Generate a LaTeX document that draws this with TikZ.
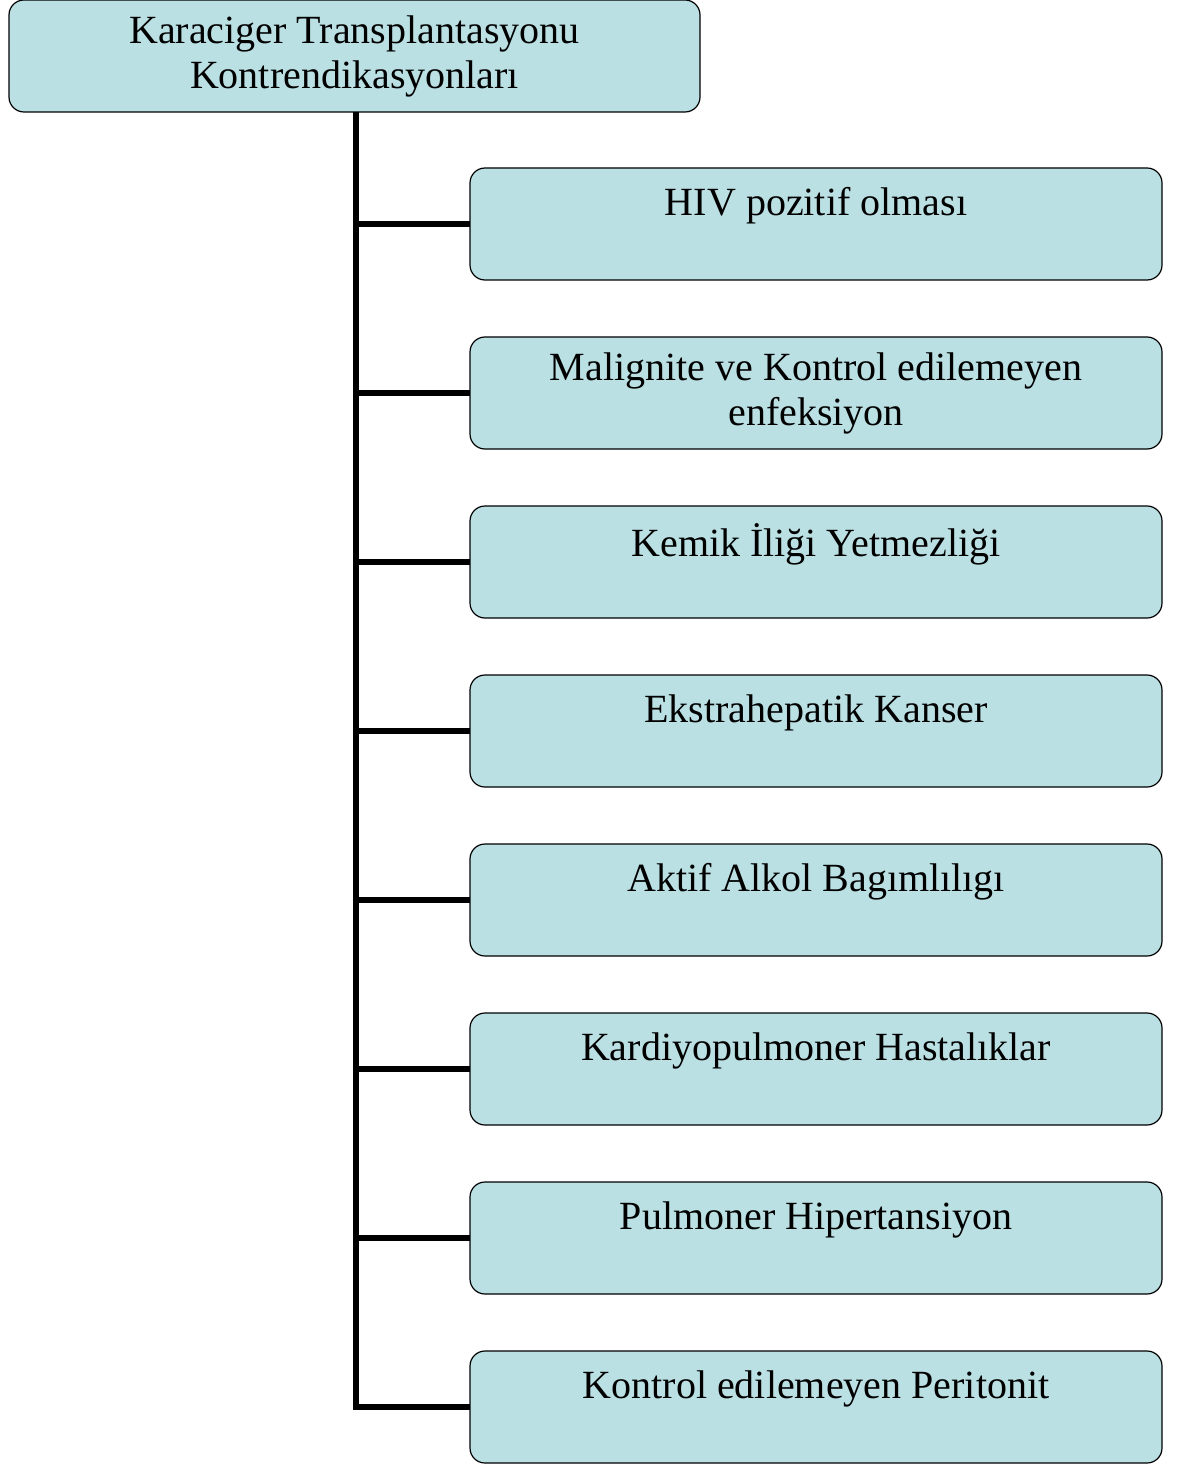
\documentclass[tikz,border=0pt]{standalone}
\usepackage{fontspec}
\setmainfont{Liberation Serif}
\usetikzlibrary{positioning}
\definecolor{boxfill}{RGB}{186,224,227}

\begin{document}
\begin{tikzpicture}[
  font=\fontsize{20}{22.5}\selectfont,
  node distance=28.5pt,
  box/.style={draw,line width=0.6pt,rounded corners=7.5pt,align=center,
              fill=boxfill,minimum height=56pt,minimum width=346pt,
              inner sep=0pt,outer sep=0pt},
  link/.style={line width=2.8pt}
]
\useasboundingbox (0,0) rectangle (594.5pt,-732.5pt);
% root
\node[box,minimum width=345.5pt] (root) at (177.25pt,-28pt)
 {Karaciger Transplantasyonu\\Kontrendikasyonları};

% items
\node[box] (c1) at (408pt,-112pt) {HIV pozitif olması\\\mbox{}};
\node[box,below=of c1] (c2) {Malignite ve Kontrol edilemeyen\\enfeksiyon};
\node[box,below=of c2] (c3) {Kemik İliği Yetmezliği\\\mbox{}};
\node[box,below=of c3] (c4) {Ekstrahepatik Kanser\\\mbox{}};
\node[box,below=of c4] (c5) {Aktif Alkol Bagımlılıgı\\\mbox{}};
\node[box,below=of c5] (c6) {Kardiyopulmoner Hastalıklar\\\mbox{}};
\node[box,below=of c6] (c7) {Pulmoner Hipertansiyon\\\mbox{}};
\node[box,below=of c7] (c8) {Kontrol edilemeyen Peritonit\\\mbox{}};

% tree lines
\coordinate (trunk) at ([xshift=0.75pt]root.south);
\draw[link] (trunk) |- (c8.west);
\foreach \i in {1,...,7}
  \draw[link] (trunk |- c\i.west) -- (c\i.west);
\end{tikzpicture}
\end{document}
